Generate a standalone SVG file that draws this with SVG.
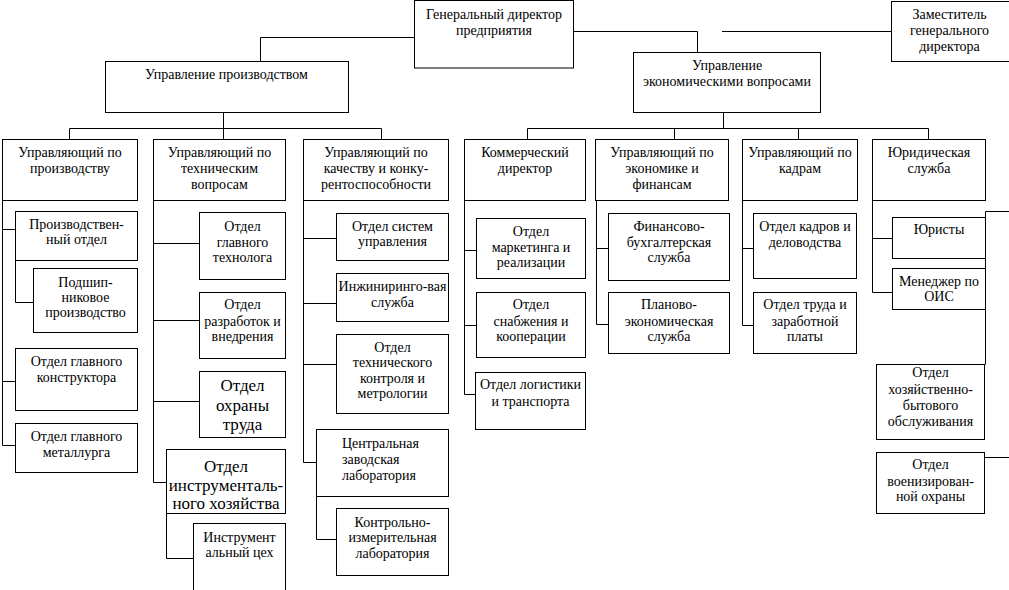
<svg xmlns="http://www.w3.org/2000/svg" width="1009" height="590" viewBox="0 0 1009 590">
<style>
rect{fill:#fff;stroke:#000;stroke-width:1}
text{font-family:"Liberation Serif",serif;font-size:14px;fill:#000;text-anchor:middle}
text.l{font-size:17px}
text.s{text-anchor:start}
#connectors path{fill:none;stroke:#000;stroke-width:1}
</style>
<rect x="0" y="0" width="1009" height="590" style="stroke:none"/>
<g id="connectors">
<path d="M414.5,37.5H260.5V61.5"/>
<path d="M574,31.5H697.5V52.5"/>
<path d="M722,31.5H891.5"/>
<path d="M223.5,112.5V139.5M69.5,139.5V128.5H381.5V139.5"/>
<path d="M723.5,112.5V128.5M527.5,139.5V128.5H928.5V139.5M674.5,128.5V139.5M798.5,128.5V139.5"/>
<path d="M2.5,200.5V445.5H15.5M2.5,229.5H15.5M2.5,381.5H15.5M15.5,260.5V302.5H33.5"/>
<path d="M153.5,200.5V482.5H166.5M153.5,243.5H199.5M153.5,320.5H199.5M153.5,401.5H199.5M166.5,513.5V558.5H193.5"/>
<path d="M303.5,200.5V462.5H316.5M303.5,238.5H336.5M303.5,303.5H336.5M303.5,364.5H336.5M316.5,496.5V539.5H336.5"/>
<path d="M464.5,200.5V394.5H475.5M464.5,250.5H476.5M464.5,325.5H476.5"/>
<path d="M596.5,200.5V324.5H608.5M596.5,248.5H608.5"/>
<path d="M742.5,200.5V325.5H753.5M742.5,248.5H753.5"/>
<path d="M872.5,200.5V292.5H892.5M872.5,238.5H892.5"/>
<path d="M1009,211.5H985.5V364.5M984.5,457.5H1009"/>
</g>
<g id="gen"><rect x="414.5" y="0.5" width="159" height="67.5"/><text x="494" y="19">Генеральный директор</text><text x="494" y="35">предприятия</text></g>
<g id="deputy"><rect x="891.5" y="1.5" width="130" height="60"/><text x="949.5" y="19">Заместитель</text><text x="949.5" y="35">генерального</text><text x="949.5" y="51">директора</text></g>
<g id="prod"><rect x="105.5" y="61.5" width="243" height="51"/><text x="226.5" y="79">Управление производством</text></g>
<g id="econ"><rect x="633.5" y="52.5" width="187" height="60"/><text x="727" y="70">Управление</text><text x="727" y="86">экономическими вопросами</text></g>

<g id="r1"><rect x="2.5" y="139.5" width="135" height="61"/><text x="70" y="157">Управляющий по</text><text x="70" y="173">производству</text></g>
<g id="r2"><rect x="153.5" y="139.5" width="132" height="61"/><text x="219.5" y="157">Управляющий по</text><text x="219.5" y="173">техническим</text><text x="219.5" y="189">вопросам</text></g>
<g id="r3"><rect x="303.5" y="139.5" width="145" height="61"/><text x="376" y="157">Управляющий по</text><text x="376" y="173">качеству и конку-</text><text x="376" y="189">рентоспособности</text></g>
<g id="r4"><rect x="464.5" y="139.5" width="121" height="61"/><text x="525" y="157">Коммерческий</text><text x="525" y="173">директор</text></g>
<g id="r5"><rect x="595.5" y="139.5" width="133" height="61"/><text x="662" y="157">Управляющий по</text><text x="662" y="173">экономике и</text><text x="662" y="189">финансам</text></g>
<g id="r6"><rect x="742.5" y="139.5" width="115" height="61"/><text x="800" y="157">Управляющий по</text><text x="800" y="173">кадрам</text></g>
<g id="r7"><rect x="872.5" y="139.5" width="113" height="61"/><text x="929" y="157">Юридическая</text><text x="929" y="173">служба</text></g>

<g id="c1a"><rect x="15.5" y="211.5" width="122" height="49"/><text x="76.5" y="229">Производствен-</text><text x="76.5" y="244">ный отдел</text></g>
<g id="c1b"><rect x="33.5" y="268.5" width="104" height="64"/><text x="85.5" y="287">Подшип-</text><text x="85.5" y="302">никовое</text><text x="85.5" y="317">производство</text></g>
<g id="c1c"><rect x="15.5" y="348.5" width="122" height="62"/><text x="76.5" y="366">Отдел главного</text><text x="76.5" y="382">конструктора</text></g>
<g id="c1d"><rect x="15.5" y="423.5" width="122" height="49"/><text x="76.5" y="441">Отдел главного</text><text x="76.5" y="457">металлурга</text></g>

<g id="c2a"><rect x="199.5" y="212.5" width="86" height="67"/><text x="242.5" y="231">Отдел</text><text x="242.5" y="247">главного</text><text x="242.5" y="262">технолога</text></g>
<g id="c2b"><rect x="199.5" y="292.5" width="86" height="66"/><text x="242.5" y="309">Отдел</text><text x="242.5" y="326">разработок и</text><text x="242.5" y="341">внедрения</text></g>
<g id="c2c"><rect x="199.5" y="371.5" width="86" height="66"/><text class="l" x="242.5" y="391">Отдел</text><text class="l" x="242.5" y="411">охраны</text><text class="l" x="242.5" y="430">труда</text></g>
<g id="c2d"><rect x="166.5" y="449.5" width="119" height="64"/><text class="l" x="226" y="472">Отдел</text><text class="l" x="226" y="491">инструменталь-</text><text class="l" x="226" y="509">ного хозяйства</text></g>
<g id="c2e"><rect x="193.5" y="523.5" width="92" height="80"/><text x="239.5" y="542">Инструмент</text><text x="239.5" y="557">альный цех</text></g>

<g id="c3a"><rect x="336.5" y="213.5" width="112" height="47"/><text x="392.5" y="231">Отдел систем</text><text x="392.5" y="246">управления</text></g>
<g id="c3b"><rect x="336.5" y="273.5" width="112" height="48"/><text x="392.5" y="291">Инжиниринго-вая</text><text x="392.5" y="307">служба</text></g>
<g id="c3c"><rect x="336.5" y="334.5" width="112" height="79"/><text x="392.5" y="352">Отдел</text><text x="392.5" y="367">технического</text><text x="392.5" y="383">контроля и</text><text x="392.5" y="398">метрологии</text></g>
<g id="c3d"><rect x="316.5" y="429.5" width="132" height="67"/><text class="s" x="342" y="448">Центральная</text><text class="s" x="342" y="464">заводская</text><text class="s" x="342" y="480">лаборатория</text></g>
<g id="c3e"><rect x="336.5" y="508.5" width="112" height="67"/><text x="392.5" y="527">Контрольно-</text><text x="392.5" y="542">измерительная</text><text x="392.5" y="558">лаборатория</text></g>

<g id="c4a"><rect x="476.5" y="218.5" width="109" height="60"/><text x="531" y="236">Отдел</text><text x="531" y="252">маркетинга и</text><text x="531" y="267">реализации</text></g>
<g id="c4b"><rect x="476.5" y="292.5" width="109" height="65"/><text x="531" y="309">Отдел</text><text x="531" y="326">снабжения и</text><text x="531" y="341">кооперации</text></g>
<g id="c4c"><rect x="475.5" y="372.5" width="110" height="57"/><text x="530.5" y="389">Отдел логистики</text><text x="530.5" y="406">и транспорта</text></g>

<g id="c5a"><rect x="608.5" y="213.5" width="121" height="67"/><text x="669" y="231">Финансово-</text><text x="669" y="247">бухгалтерская</text><text x="669" y="262">служба</text></g>
<g id="c5b"><rect x="608.5" y="292.5" width="121" height="61"/><text x="669" y="309">Планово-</text><text x="669" y="326">экономическая</text><text x="669" y="341">служба</text></g>

<g id="c6a"><rect x="753.5" y="213.5" width="103" height="65"/><text x="805" y="231">Отдел кадров и</text><text x="805" y="247">деловодства</text></g>
<g id="c6b"><rect x="753.5" y="292.5" width="103" height="61"/><text x="805" y="309">Отдел труда и</text><text x="805" y="326">заработной</text><text x="805" y="341">платы</text></g>

<g id="c7a"><rect x="892.5" y="217.5" width="93" height="41"/><text x="939" y="234">Юристы</text></g>
<g id="c7b"><rect x="892.5" y="268.5" width="93" height="41"/><text x="939" y="286">Менеджер по</text><text x="939" y="301">ОИС</text></g>
<g id="c7c"><rect x="876.5" y="364.5" width="108" height="75"/><text x="930.5" y="377">Отдел</text><text x="930.5" y="394">хозяйственно-</text><text x="930.5" y="410">бытового</text><text x="930.5" y="426">обслуживания</text></g>
<g id="c7d"><rect x="876.5" y="452.5" width="108" height="61"/><text x="930.5" y="469">Отдел</text><text x="930.5" y="486">военизирован-</text><text x="930.5" y="501">ной охраны</text></g>
</svg>
